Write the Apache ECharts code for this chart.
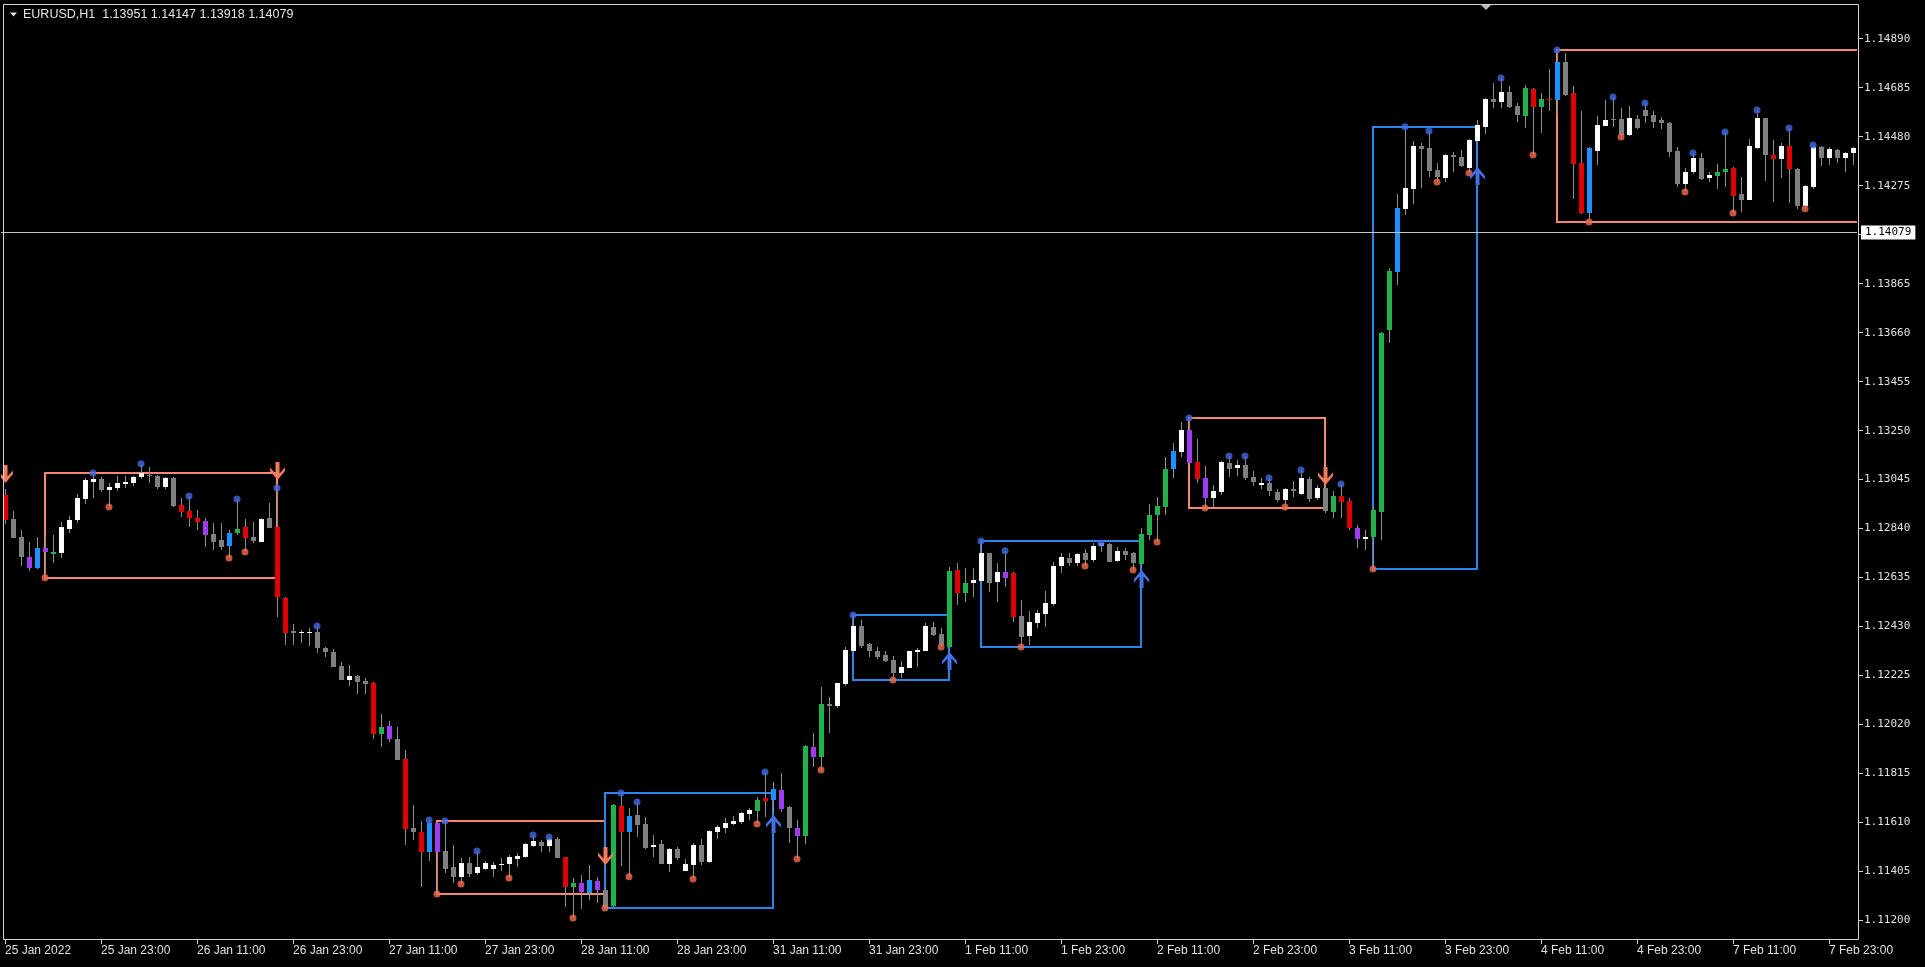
<!DOCTYPE html>
<html><head><meta charset="utf-8">
<script src="https://cdn.jsdelivr.net/npm/echarts@6/dist/echarts.min.js"></script>
<style>html,body{margin:0;padding:0;background:#000;overflow:hidden}#c{width:1925px;height:967px}</style>
</head><body><div id="c"></div>
<script>
// ---- DATA ----
const symbolTitle = 'EURUSD,H1';
const titleOHLC = '1.13951 1.14147 1.13918 1.14079';
const currentPrice = 1.14079;

const sessions = [['25 Jan',11,23],['26 Jan',0,23],['27 Jan',0,23],['28 Jan',0,23],['31 Jan',0,23],['1 Feb',0,23],['2 Feb',0,23],['3 Feb',0,23],['4 Feb',0,23],['7 Feb',0,23],['8 Feb',0,2]];

const xTickIdx = [0,12,24,36,48,60,72,84,96,108,120,132,144,156,168,180,192,204,216,228];
const xTickText = ['25 Jan 2022','25 Jan 23:00','26 Jan 11:00','26 Jan 23:00','27 Jan 11:00','27 Jan 23:00','28 Jan 11:00','28 Jan 23:00','31 Jan 11:00','31 Jan 23:00','1 Feb 11:00','1 Feb 23:00','2 Feb 11:00','2 Feb 23:00','3 Feb 11:00','3 Feb 23:00','4 Feb 11:00','4 Feb 23:00','7 Feb 11:00','7 Feb 23:00'];

const yTicks = [1.11200,1.11405,1.11610,1.11815,1.12020,1.12225,1.12430,1.12635,1.12840,1.13045,1.13250,1.13455,1.13660,1.13865,1.14070,1.14275,1.14480,1.14685,1.14890];
const yLabels = [1.11200,1.11405,1.11610,1.11815,1.12020,1.12225,1.12430,1.12635,1.12840,1.13045,1.13250,1.13455,1.13660,1.13865,1.14275,1.14480,1.14685,1.14890];

const open = [
1.12981,1.12880,1.12805,1.12721,1.12675,1.12759,1.12734,1.12738,1.12839,1.12876,
1.12964,1.13035,1.13048,1.13002,1.13010,1.13027,1.13031,1.13056,1.13065,1.13060,
1.13014,1.13052,1.12939,1.12914,1.12885,1.12872,1.12818,1.12793,1.12767,1.12822,
1.12847,1.12805,1.12784,1.12885,1.12847,1.12550,1.12412,1.12403,1.12403,1.12408,
1.12341,1.12324,1.12265,1.12207,1.12224,1.12203,1.12194,1.11981,1.12014,1.11960,
1.11876,1.11588,1.11571,1.11487,1.11608,1.11491,1.11424,1.11383,1.11441,1.11399,
1.11416,1.11416,1.11433,1.11437,1.11458,1.11466,1.11512,1.11529,1.11512,1.11542,
1.11466,1.11341,1.11357,1.11316,1.11366,1.11328,1.11261,1.11680,1.11571,1.11642,
1.11604,1.11508,1.11521,1.11437,1.11500,1.11408,1.11433,1.11516,1.11445,1.11571,
1.11588,1.11604,1.11613,1.11646,1.11659,1.11713,1.11705,1.11747,1.11675,1.11588,
1.11554,1.11926,1.11885,1.12106,1.12098,1.12190,1.12328,1.12433,1.12357,1.12328,
1.12311,1.12291,1.12236,1.12257,1.12324,1.12328,1.12429,1.12399,1.12345,1.12667,
1.12571,1.12613,1.12621,1.12738,1.12617,1.12659,1.12654,1.12475,1.12391,1.12445,
1.12483,1.12525,1.12684,1.12717,1.12696,1.12738,1.12709,1.12767,1.12776,1.12705,
1.12747,1.12738,1.12692,1.12814,1.12897,1.12931,1.13090,1.13161,1.13253,1.13119,
1.13052,1.12968,1.12993,1.13115,1.13094,1.13106,1.13056,1.13023,1.13031,1.12993,
1.12960,1.13006,1.12985,1.13048,1.12968,1.13010,1.12910,1.12977,1.12956,1.12843,
1.12797,1.12805,1.12910,1.13671,1.13914,1.14178,1.14261,1.14441,1.14433,1.14341,
1.14307,1.14403,1.14395,1.14349,1.14462,1.14521,1.14638,1.14625,1.14667,1.14608,
1.14567,1.14680,1.14604,1.14638,1.14634,1.14793,1.14663,1.14370,1.14161,1.14420,
1.14525,1.14554,1.14554,1.14487,1.14554,1.14592,1.14571,1.14550,1.14537,1.14420,
1.14282,1.14332,1.14391,1.14307,1.14316,1.14332,1.14349,1.14240,1.14215,1.14433,
1.14558,1.14403,1.14387,1.14441,1.14345,1.14190,1.14270,1.14437,1.14391,1.14424,
1.14391,1.14412];

const high = [
1.13006,1.12914,1.12834,1.12784,1.12805,1.12805,1.12814,1.12868,1.12893,1.12985,
1.13052,1.13073,1.13056,1.13031,1.13060,1.13060,1.13060,1.13111,1.13098,1.13065,
1.13056,1.13056,1.12968,1.12977,1.12918,1.12885,1.12864,1.12864,1.12834,1.12964,
1.12880,1.12868,1.12885,1.12947,1.13010,1.12554,1.12441,1.12416,1.12424,1.12433,
1.12345,1.12336,1.12282,1.12270,1.12226,1.12215,1.12198,1.12065,1.12035,1.12010,
1.11914,1.11684,1.11617,1.11621,1.11613,1.11617,1.11516,1.11462,1.11466,1.11491,
1.11450,1.11445,1.11462,1.11475,1.11483,1.11525,1.11558,1.11537,1.11550,1.11550,
1.11468,1.11378,1.11391,1.11433,1.11383,1.11337,1.11688,1.11734,1.11671,1.11696,
1.11634,1.11558,1.11537,1.11502,1.11508,1.11458,1.11525,1.11542,1.11579,1.11600,
1.11629,1.11638,1.11655,1.11671,1.11717,1.11822,1.11780,1.11818,1.11680,1.11621,
1.11935,1.11985,1.12178,1.12136,1.12196,1.12345,1.12479,1.12458,1.12360,1.12345,
1.12328,1.12307,1.12286,1.12330,1.12341,1.12445,1.12449,1.12424,1.12680,1.12696,
1.12675,1.12675,1.12788,1.12740,1.12696,1.12747,1.12659,1.12542,1.12496,1.12500,
1.12579,1.12701,1.12738,1.12738,1.12738,1.12755,1.12780,1.12780,1.12778,1.12763,
1.12759,1.12742,1.12843,1.12943,1.12972,1.13140,1.13198,1.13286,1.13303,1.13215,
1.13102,1.13023,1.13123,1.13144,1.13127,1.13144,1.13081,1.13052,1.13052,1.13006,
1.13008,1.13039,1.13085,1.13056,1.13023,1.13023,1.12998,1.13027,1.12968,1.12855,
1.12834,1.12931,1.13661,1.13931,1.14240,1.14521,1.14462,1.14454,1.14504,1.14370,
1.14407,1.14416,1.14424,1.14470,1.14550,1.14642,1.14705,1.14726,1.14692,1.14621,
1.14696,1.14684,1.14663,1.14763,1.14843,1.14830,1.14692,1.14588,1.14437,1.14567,
1.14634,1.14646,1.14600,1.14608,1.14571,1.14621,1.14588,1.14562,1.14541,1.14437,
1.14349,1.14412,1.14412,1.14332,1.14366,1.14500,1.14353,1.14311,1.14470,1.14592,
1.14560,1.14466,1.14454,1.14516,1.14349,1.14278,1.14445,1.14439,1.14437,1.14428,
1.14416,1.14437];

const low = [
1.12860,1.12800,1.12684,1.12663,1.12672,1.12634,1.12696,1.12717,1.12822,1.12864,
1.12943,1.12968,1.12993,1.12931,1.12998,1.13010,1.13019,1.13048,1.13031,1.13006,
1.13006,1.12931,1.12889,1.12847,1.12834,1.12763,1.12751,1.12751,1.12717,1.12814,
1.12742,1.12780,1.12782,1.12841,1.12470,1.12353,1.12353,1.12362,1.12349,1.12320,
1.12303,1.12259,1.12205,1.12182,1.12148,1.12148,1.11960,1.11926,1.11947,1.11870,
1.11516,1.11537,1.11341,1.11450,1.11311,1.11399,1.11357,1.11353,1.11383,1.11391,
1.11412,1.11383,1.11408,1.11378,1.11424,1.11462,1.11510,1.11487,1.11487,1.11460,
1.11257,1.11211,1.11249,1.11286,1.11274,1.11253,1.11257,1.11429,1.11383,1.11550,
1.11500,1.11466,1.11435,1.11403,1.11454,1.11406,1.11374,1.11433,1.11443,1.11542,
1.11567,1.11602,1.11604,1.11621,1.11604,1.11634,1.11650,1.11655,1.11525,1.11458,
1.11521,1.11843,1.11830,1.11985,1.12090,1.12182,1.12326,1.12341,1.12303,1.12295,
1.12284,1.12207,1.12215,1.12255,1.12261,1.12326,1.12391,1.12345,1.12343,1.12521,
1.12533,1.12554,1.12613,1.12575,1.12533,1.12596,1.12449,1.12345,1.12353,1.12424,
1.12429,1.12516,1.12654,1.12684,1.12684,1.12684,1.12701,1.12742,1.12699,1.12701,
1.12709,1.12667,1.12675,1.12793,1.12784,1.12897,1.13052,1.13140,1.13111,1.13031,
1.12926,1.12931,1.12981,1.13056,1.13060,1.13044,1.13019,1.13006,1.12977,1.12952,
1.12931,1.12972,1.12981,1.12952,1.12960,1.12906,1.12885,1.12885,1.12834,1.12759,
1.12751,1.12671,1.12793,1.13617,1.13859,1.14152,1.14198,1.14265,1.14311,1.14290,
1.14290,1.14332,1.14353,1.14328,1.14458,1.14491,1.14600,1.14600,1.14600,1.14541,
1.14516,1.14403,1.14495,1.14588,1.14571,1.14652,1.14219,1.14157,1.14123,1.14362,
1.14523,1.14521,1.14479,1.14483,1.14514,1.14537,1.14516,1.14512,1.14395,1.14270,
1.14249,1.14324,1.14299,1.14290,1.14261,1.14270,1.14161,1.14165,1.14213,1.14428,
1.14295,1.14207,1.14307,1.14203,1.14178,1.14178,1.14261,1.14357,1.14362,1.14370,
1.14332,1.14362];

const close = [
1.12876,1.12801,1.12721,1.12675,1.12759,1.12742,1.12742,1.12847,1.12876,1.12968,
1.13044,1.13048,1.13002,1.13014,1.13031,1.13035,1.13056,1.13073,1.13060,1.13014,
1.13052,1.12935,1.12910,1.12885,1.12868,1.12814,1.12784,1.12763,1.12822,1.12839,
1.12801,1.12788,1.12880,1.12843,1.12554,1.12403,1.12403,1.12408,1.12408,1.12341,
1.12324,1.12261,1.12207,1.12224,1.12198,1.12190,1.11981,1.12010,1.11960,1.11872,
1.11583,1.11571,1.11487,1.11608,1.11487,1.11416,1.11383,1.11441,1.11395,1.11424,
1.11441,1.11433,1.11437,1.11466,1.11470,1.11521,1.11533,1.11512,1.11542,1.11462,
1.11341,1.11357,1.11320,1.11370,1.11328,1.11257,1.11684,1.11571,1.11638,1.11600,
1.11504,1.11516,1.11437,1.11500,1.11462,1.11437,1.11516,1.11445,1.11575,1.11592,
1.11608,1.11617,1.11650,1.11663,1.11705,1.11701,1.11751,1.11667,1.11588,1.11554,
1.11931,1.11885,1.12106,1.12098,1.12194,1.12332,1.12433,1.12349,1.12328,1.12303,
1.12286,1.12236,1.12261,1.12328,1.12332,1.12433,1.12395,1.12353,1.12663,1.12571,
1.12613,1.12625,1.12738,1.12613,1.12659,1.12634,1.12470,1.12387,1.12449,1.12487,
1.12529,1.12684,1.12721,1.12696,1.12734,1.12709,1.12767,1.12778,1.12701,1.12747,
1.12730,1.12696,1.12818,1.12897,1.12935,1.13090,1.13165,1.13253,1.13115,1.13048,
1.12968,1.12998,1.13119,1.13090,1.13106,1.13052,1.13035,1.13031,1.12998,1.12960,
1.13006,1.12998,1.13052,1.12964,1.13010,1.12914,1.12977,1.12952,1.12843,1.12797,
1.12805,1.12918,1.13659,1.13918,1.14182,1.14265,1.14441,1.14428,1.14336,1.14311,
1.14403,1.14395,1.14357,1.14466,1.14529,1.14638,1.14625,1.14667,1.14604,1.14571,
1.14684,1.14604,1.14638,1.14634,1.14793,1.14654,1.14366,1.14161,1.14433,1.14529,
1.14550,1.14550,1.14487,1.14558,1.14516,1.14567,1.14541,1.14537,1.14416,1.14282,
1.14332,1.14391,1.14303,1.14320,1.14332,1.14345,1.14232,1.14215,1.14441,1.14558,
1.14403,1.14387,1.14441,1.14345,1.14190,1.14274,1.14437,1.14391,1.14428,1.14391,
1.14412,1.14433];

// candle body colour codes: w white, g gray, r red, G green, b blue, p purple
const barColorCodes = (
 'rggpbpGwww'+'wwgwwwwwgg'+'wgrrrpggbG'+'rgwgrrgwwg'+'gggwggrGpg'+
 'rgrbpggwgw'+'wwwwwwwgwg'+'rGpbpgGrbg'+'gwgwgwwgww'+'wwwwGrbpgp'+
 'GpGgwwwggg'+'ggwwwwggGr'+'Gwwgwprgww'+'wwwgwgwwgw'+'ggGGGGbwpr'+
 'pwwgwggwgg'+'wgwgwgGrrp'+'wGGGbwwggg'+'wggwwwgwgg'+'GrGrbgrrbw'+
 'wggwgggggg'+'wwgwGGrgww'+'grwrgwwgwg'+'ww').split('');

// fractal markers (bar indices)
const fractalUpIdx = [11,17,23,29,34,39,53,55,59,66,68,77,79,95,106,122,125,137,148,153,155,158,162,167,175,178,187,194,201,205,211,215,219,223,226];
const fractalDownIdx = [5,13,28,30,54,57,63,71,75,78,86,94,99,102,111,117,127,135,141,144,150,160,171,179,183,191,198,202,210,216,225];

// range boxes
const boxStart = [5,54,75,106,122,148,171,194];
const boxEnd   = [34,75,96,118,142,165,184,231];
const boxLow   = [1.12634,1.11311,1.11253,1.12207,1.12345,1.12926,1.12671,1.14123];
const boxHigh  = [1.13073,1.11617,1.11734,1.12479,1.12788,1.13303,1.14521,1.14843];
const boxKind  = ['sell','sell','buy','buy','buy','sell','buy','sell'];
const boxOpenRight = [false,false,false,false,false,false,false,true];

// signal arrows: bar index, tip price, direction
const arrowIdx = [0,34,75,96,118,142,165,184];
const arrowTip = [1.13031,1.13044,1.11433,1.11642,1.12324,1.12667,1.13023,1.14353];
const arrowDir = ['down','down','down','up','up','up','down','up'];

// ---- BUILD ----
const cats = [];
sessions.forEach(([d,a,b]) => { for (let h=a; h<=b; h++) cats.push(d+' '+String(h).padStart(2,'0')+':00'); });

const COL = {w:'#ffffff', g:'#808080', r:'#e00000', G:'#22b24c', b:'#1e90ff', p:'#a03cf0'};
const WICK = '#8e8e8e';
const BOXCOL = {sell:'#f4896b', buy:'#2d84ea'};
const DOT_UP = '#4169e1', DOT_DN = '#f26a4f';
const ARROW_UP = '#4470e4', ARROW_DN = '#f47a5c';

const candleData = open.map((o,i) => [i, o, close[i], low[i], high[i]]);
const boxData = boxStart.map((s,i) => [s, boxEnd[i], boxLow[i], boxHigh[i], i]);
const arrowData = arrowIdx.map((x,i) => [x, arrowTip[i], i]);
const upDots = fractalUpIdx.map(i => [i, high[i]]);
const dnDots = fractalDownIdx.map(i => [i, low[i]]);

const chart = echarts.init(document.getElementById('c'), null, {renderer:'canvas', width:1925, height:967});

const tickSet = new Set(xTickIdx);
const monoFont = '"DejaVu Sans Mono", monospace';
const sansFont = '"Liberation Sans", Arial, sans-serif';
const FRAME = {x:3, y:4, w:1856, h:936};

const option = {
  backgroundColor:'#000000',
  animation:false,
  grid:{left:1, top:4, width:1856, height:936, show:false},
  xAxis:{
    type:'category', data:cats, boundaryGap:true,
    axisLine:{show:false},
    axisTick:{show:true, alignWithLabel:true, length:4, interval:(idx)=>tickSet.has(idx), lineStyle:{color:'#d4d4d4'}},
    axisLabel:{show:true, interval:(idx)=>tickSet.has(idx), showMaxLabel:true, showMinLabel:true, hideOverlap:false,
      formatter:(v,idx)=>{const k=xTickIdx.indexOf(idx); return k>=0?xTickText[k]:'';},
      align:'left', color:'#e0e0e0', fontFamily:sansFont, fontSize:12, margin:5},
    splitLine:{show:false}
  },
  yAxis:{
    type:'value', position:'right', offset:2, min:1.111188, max:1.150351, scale:true,
    splitLine:{show:false}, axisLine:{show:false},
    axisTick:{show:true, customValues:yTicks, length:4, lineStyle:{color:'#d4d4d4'}},
    axisLabel:{show:true, customValues:yLabels, formatter:(v)=>Number(v).toFixed(5), color:'#e0e0e0', fontFamily:monoFont, fontSize:11, margin:5}
  },
  graphic:[
    {type:'rect', shape:{x:FRAME.x+0.5, y:FRAME.y+0.5, width:FRAME.w-1, height:FRAME.h-1}, style:{fill:null, stroke:'#d4d4d4', lineWidth:1}, silent:true, z:50},
    {type:'polygon', shape:{points:[[10,12.5],[17,12.5],[13.5,16.5]]}, style:{fill:'#e0e0e0'}, silent:true},
    {type:'text', x:23, y:15, style:{text:symbolTitle+'  '+titleOHLC, fill:'#e6e6e6', font:'12.5px '+sansFont, verticalAlign:'middle'}, silent:true},
    {type:'polygon', shape:{points:[[1481,5],[1491,5],[1486,10]]}, style:{fill:'#bdbdbd'}, silent:true}
  ],
  series:[
    {
      type:'custom', name:'boxes', data:boxData, clip:true, silent:true, z:2,
      encode:{x:[0,1], y:[2,3]},
      renderItem:(params, api) => {
        const k = api.value(4);
        const a = api.coord([api.value(0), api.value(3)]);
        const b = api.coord([api.value(1), api.value(2)]);
        const x1 = Math.round(a[0]);
        const x2 = boxOpenRight[k] ? FRAME.x + FRAME.w : Math.round(b[0]);
        const y1 = Math.round(a[1]), y2 = Math.round(b[1]);
        return {type:'rect', shape:{x:x1, y:y1, width:x2-x1, height:y2-y1}, style:{fill:null, stroke:BOXCOL[boxKind[k]], lineWidth:2}};
      }
    },
    {
      type:'custom', name:'EURUSD', data:candleData, clip:true, silent:true, z:3,
      encode:{x:0, y:[1,2,3,4]},
      renderItem:(params, api) => {
        const i = api.value(0);
        const pO = api.coord([i, api.value(1)]), pC = api.coord([i, api.value(2)]);
        const pL = api.coord([i, api.value(3)]), pH = api.coord([i, api.value(4)]);
        const cx = Math.round(pO[0]);
        let top = Math.round(Math.min(pO[1], pC[1])), bot = Math.round(Math.max(pO[1], pC[1]));
        if (bot - top < 1) bot = top + 1;
        return {type:'group', children:[
          {type:'line', shape:{x1:cx+0.5, y1:Math.round(pH[1]), x2:cx+0.5, y2:Math.round(pL[1])}, style:{stroke:WICK, lineWidth:1}},
          {type:'rect', shape:{x:cx-2, y:top, width:5, height:bot-top}, style:{fill:COL[barColorCodes[i]]}}
        ]};
      }
    },
    {
      type:'scatter', name:'fractal up', data:upDots, symbol:'circle', symbolSize:7, silent:true, z:5,
      itemStyle:{color:DOT_UP},
      markLine:{silent:true, symbol:['none','none'], animation:false, precision:5,
        lineStyle:{color:'#c4c4c4', width:1, type:'solid'},
        label:{show:true, position:'end', distance:4, formatter:()=>currentPrice.toFixed(5), backgroundColor:'#ffffff', color:'#000000', fontFamily:monoFont, fontSize:11, padding:[2,4,1,4]},
        data:[{yAxis:currentPrice}]}
    },
    {type:'scatter', name:'fractal down', data:dnDots, symbol:'circle', symbolSize:7, silent:true, z:5, itemStyle:{color:DOT_DN}},
    {
      type:'custom', name:'signals', data:arrowData, clip:true, silent:true, z:6,
      encode:{x:0, y:1},
      renderItem:(params, api) => {
        const k = api.value(2);
        const p = api.coord([api.value(0), api.value(1)]);
        const s = arrowDir[k] === 'up' ? 1 : -1;
        const cx = Math.round(p[0]) + 0.5, ty = Math.round(p[1]);
        const pts = [[0,0],[-7.5,9],[-7.5,12.5],[-2,6.5],[-2,18],[2,18],[2,6.5],[7.5,12.5],[7.5,9]]
          .map(([dx,dy]) => [cx+dx, ty + s*dy]);
        return {type:'polygon', shape:{points:pts}, style:{fill: s>0 ? ARROW_UP : ARROW_DN}};
      }
    }
  ]
};
chart.setOption(option);
</script>
</body></html>
